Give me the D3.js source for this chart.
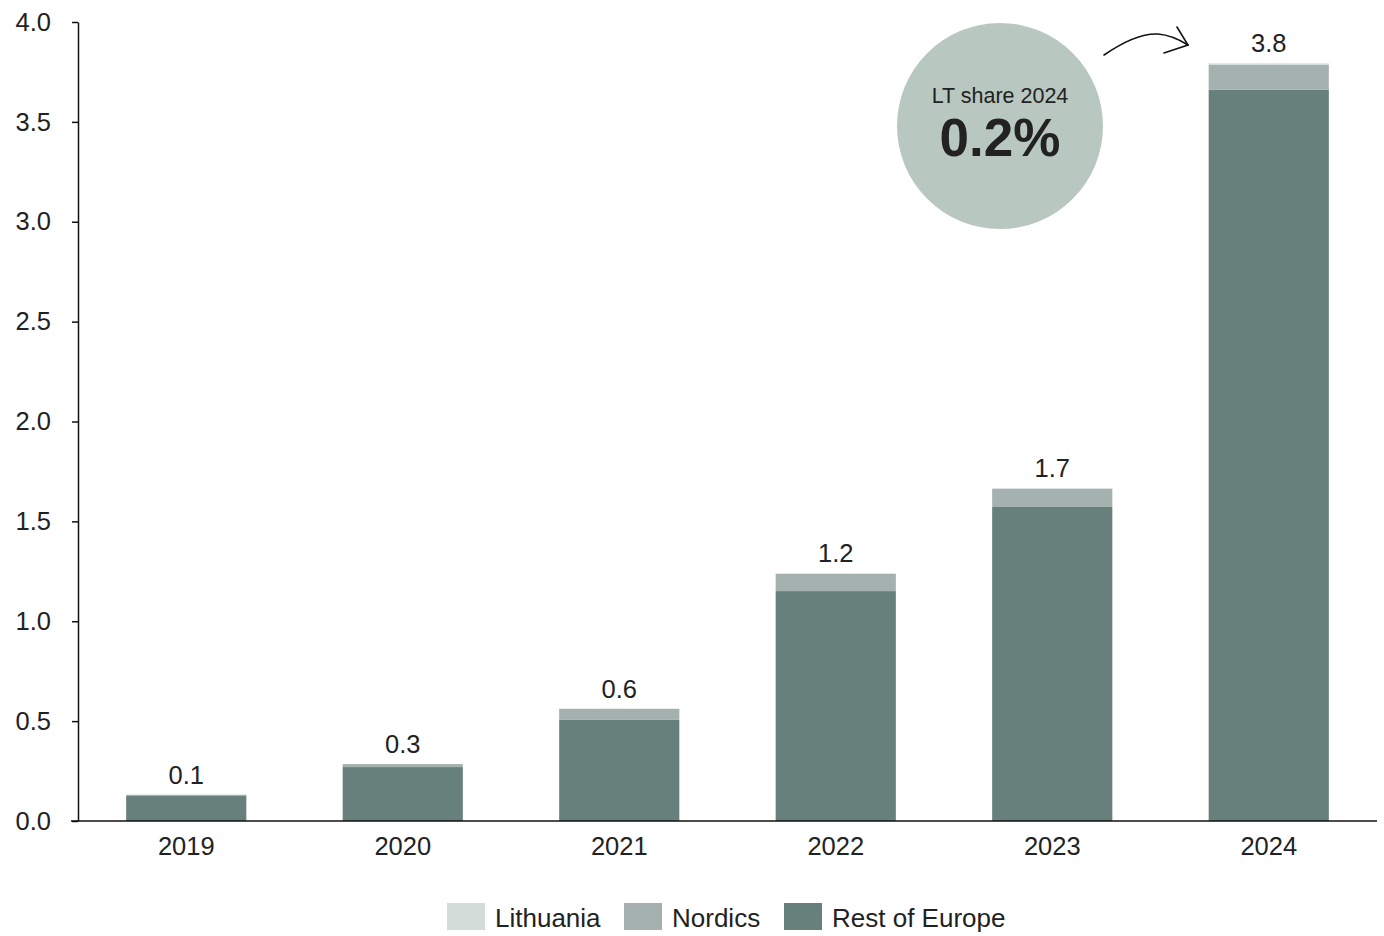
<!DOCTYPE html>
<html>
<head>
<meta charset="utf-8">
<script src="https://cdn.jsdelivr.net/npm/d3@7/dist/d3.min.js"></script>
<style>
  html, body { margin: 0; padding: 0; background: #fff; }
  svg { display: block; font-family: "Liberation Sans", Arial, sans-serif; }
</style>
</head>
<body>
<svg id="chart" width="1384" height="936"></svg>
<script>
// Annual values by region (stacked bottom to top: Rest of Europe, Nordics, Lithuania)
const years = ["2019", "2020", "2021", "2022", "2023", "2024"];
const restOfEurope = [0.125, 0.270, 0.506, 1.151, 1.572, 3.662];
const nordics = [0.006, 0.015, 0.055, 0.086, 0.090, 0.123];
const lithuania = [0.001, 0.001, 0.002, 0.003, 0.004, 0.008];
const yTicks = [0, 0.5, 1, 1.5, 2, 2.5, 3, 3.5, 4];

const seriesNames = ["Rest of Europe", "Nordics", "Lithuania"];
const legendOrder = ["Lithuania", "Nordics", "Rest of Europe"];
const colors = { "Lithuania": "#d3dcd9", "Nordics": "#a4b1af", "Rest of Europe": "#67807b" };

const calloutTitle = "LT share 2024";
const calloutValue = "0.2%";

const rows = years.map((y, i) => ({
  year: y,
  "Rest of Europe": restOfEurope[i],
  "Nordics": nordics[i],
  "Lithuania": lithuania[i]
}));
const total = d => d["Rest of Europe"] + d["Nordics"] + d["Lithuania"];

const svg = d3.select("#chart");
const margin = { left: 78, right: 7, top: 22, bottom: 115 };
const W = 1384, H = 936;
const FONT = "Liberation Sans, Arial, sans-serif";

const x = d3.scaleBand().domain(years).range([margin.left, W - margin.right]).paddingInner(0.445).paddingOuter(0.2225);
const y = d3.scaleLinear().domain([0, 4]).range([H - margin.bottom, margin.top]);

const stacked = d3.stack().keys(seriesNames)(rows);

// Bars
svg.append("g").selectAll("g")
  .data(stacked)
  .join("g")
  .attr("fill", d => colors[d.key])
  .selectAll("rect")
  .data(d => d)
  .join("rect")
  .attr("x", d => x(d.data.year))
  .attr("width", x.bandwidth())
  .attr("y", d => y(d[1]))
  .attr("height", d => Math.max(0, y(d[0]) - y(d[1])));

// Total labels
svg.append("g").selectAll("text")
  .data(rows)
  .join("text")
  .attr("x", d => x(d.year) + x.bandwidth() / 2)
  .attr("y", d => y(total(d)) - 11)
  .attr("text-anchor", "middle")
  .attr("font-size", 25.5)
  .attr("fill", "#222")
  .text(d => d3.format(".1f")(total(d)));

// Y axis
const yAxis = d3.axisLeft(y).tickValues(yTicks).tickFormat(d3.format(".1f")).tickSize(6).tickSizeOuter(0);
const yg = svg.append("g").attr("transform", `translate(${margin.left},0)`).call(yAxis);
yg.select(".domain").attr("stroke", "#111").attr("stroke-width", 1.5);
yg.selectAll(".tick line").attr("stroke", "#111").attr("stroke-width", 1.5);
yg.selectAll(".tick text").attr("font-size", 25.5).attr("fill", "#222").attr("x", -27)
  .attr("font-family", FONT);

// X axis
const xAxis = d3.axisBottom(x).tickSize(0).tickSizeOuter(0);
const xg = svg.append("g").attr("transform", `translate(0,${y(0)})`).call(xAxis);
xg.select(".domain").attr("stroke", "#111").attr("stroke-width", 1.5)
  .attr("d", `M${margin.left - 7},0H${W - margin.right}`);
xg.selectAll(".tick text").attr("font-size", 25.5).attr("fill", "#222").attr("dy", 0).attr("y", 34)
  .attr("font-family", FONT);

// Callout bubble
const bubble = svg.append("g");
bubble.append("circle").attr("cx", 1000).attr("cy", 126).attr("r", 103).attr("fill", "#b8c8c1");
bubble.append("text").attr("x", 1000).attr("y", 103).attr("text-anchor", "middle")
  .attr("font-size", 21.5).attr("fill", "#222").text(calloutTitle);
bubble.append("text").attr("x", 1000).attr("y", 156).attr("text-anchor", "middle")
  .attr("font-size", 53).attr("font-weight", "bold").attr("fill", "#222").text(calloutValue);

// Hand-drawn arrow towards the 2024 bar
const arrow = svg.append("g").attr("fill", "none").attr("stroke", "#111").attr("stroke-width", 1.6).attr("stroke-linecap", "round");
arrow.append("path").attr("d", "M1104,55 C1120,44 1140,33 1158,34 C1170,35 1180,40 1188,45");
arrow.append("path").attr("d", "M1177,27 L1188,45 L1164,53");

// Legend
const legend = svg.append("g");
const legendX = [447, 624, 784];
legendOrder.forEach((name, i) => {
  legend.append("rect").attr("x", legendX[i]).attr("y", 903).attr("width", 38).attr("height", 27).attr("fill", colors[name]);
  legend.append("text").attr("x", legendX[i] + 48).attr("y", 927).attr("font-size", 26).attr("fill", "#222").text(name);
});
</script>
</body>
</html>
